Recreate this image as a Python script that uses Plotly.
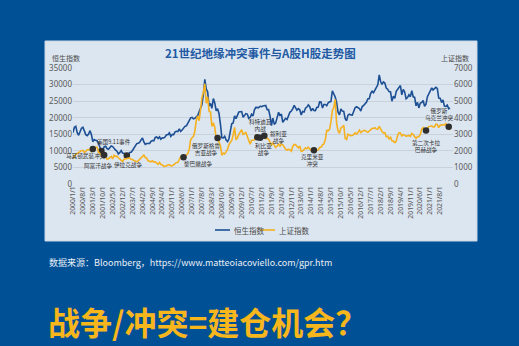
import pandas as pd
import plotly.graph_objects as go

# Monthly closes, Jan 2000 - Mar 2022
hsi = [
    15500, 17100, 17400, 15500, 14700, 16100, 16800, 17100, 15650, 14900, 14600, 15100,  # 2000
    16100, 14800, 12760, 13390, 13170, 13040, 12300, 10900, 9950, 10070, 11280, 11400,    # 2001
    10700, 10480, 11030, 11500, 11300, 10600, 10270, 9900, 9070, 9440, 10070, 9320,       # 2002
    9250, 9120, 8630, 8720, 9490, 9580, 10130, 10900, 11230, 12190, 12320, 12580,         # 2003
    13290, 13910, 12680, 11940, 12200, 12290, 12240, 12850, 13120, 13050, 14060, 14230,   # 2004
    13720, 14200, 13520, 13910, 13870, 14200, 14880, 14900, 15430, 14390, 14940, 14880,   # 2005
    15750, 15920, 15800, 16660, 15860, 16270, 16970, 17390, 17540, 18320, 18960, 19960,   # 2006
    20110, 19650, 19800, 20320, 20630, 21770, 23180, 23980, 27140, 31600, 28640, 27810,   # 2007
    23460, 24330, 22850, 25760, 24530, 22100, 22730, 21260, 18020, 13970, 13890, 14390,   # 2008
    13280, 12810, 13580, 15520, 18170, 18380, 20570, 19720, 20960, 21750, 21820, 21870,   # 2009
    20120, 20610, 21240, 21110, 19770, 20130, 21030, 20540, 22360, 23100, 23010, 23040,   # 2010
    23450, 23340, 23530, 23720, 23680, 22400, 22440, 20530, 17590, 19860, 17990, 18430,   # 2011
    20390, 21680, 20560, 21090, 18630, 19440, 19800, 19480, 20840, 21640, 22030, 22660,   # 2012
    23730, 23020, 22300, 22740, 22390, 20800, 21880, 21730, 22860, 23210, 23880, 23310,   # 2013
    22040, 22840, 22150, 22130, 23080, 23190, 24760, 24740, 22930, 24000, 23990, 23610,   # 2014
    24510, 24820, 24900, 28130, 27420, 26250, 24640, 21670, 20850, 22640, 22000, 21910,   # 2015
    19680, 19110, 20780, 21070, 20820, 20790, 21890, 23020, 23300, 22930, 22790, 22000,   # 2016
    23360, 23740, 24110, 24620, 25660, 25760, 27320, 27970, 27550, 28250, 29180, 29920,   # 2017
    32890, 30840, 30090, 30810, 30470, 28960, 28580, 27890, 27790, 24980, 26510, 25850,   # 2018
    27940, 28630, 29050, 29700, 26900, 28540, 27780, 25720, 26090, 26910, 26350, 28190,   # 2019
    26310, 26130, 23600, 24640, 22960, 24430, 24600, 25180, 23460, 24100, 26340, 27230,   # 2020
    28280, 28980, 28380, 28720, 29150, 28830, 25960, 25880, 24580, 25380, 23480, 23400,   # 2021
    23800, 22710, 22990,                                                                  # 2022
]

sse = [
    1535, 1714, 1800, 1836, 1894, 1928, 2023, 2022, 1911, 1961, 2070, 2073,   # 2000
    2066, 1960, 2112, 2119, 2214, 2218, 1920, 1834, 1767, 1690, 1747, 1646,   # 2001
    1491, 1525, 1594, 1663, 1515, 1733, 1670, 1681, 1582, 1507, 1438, 1357,   # 2002
    1499, 1511, 1510, 1521, 1576, 1487, 1477, 1421, 1367, 1348, 1397, 1497,   # 2003
    1590, 1675, 1742, 1595, 1555, 1400, 1386, 1342, 1396, 1320, 1340, 1266,   # 2004
    1191, 1306, 1181, 1159, 1060, 1080, 1083, 1162, 1155, 1092, 1099, 1161,   # 2005
    1258, 1299, 1298, 1440, 1641, 1672, 1612, 1658, 1752, 1837, 2099, 2675,   # 2006
    2786, 2881, 3183, 3841, 4109, 3820, 4471, 5218, 5552, 6050, 4871, 5262,   # 2007
    4383, 4348, 3473, 3693, 3433, 2736, 2775, 2500, 2293, 1729, 1871, 1821,   # 2008
    1991, 2082, 2373, 2477, 2632, 2959, 3412, 2667, 2779, 2996, 3195, 3277,   # 2009
    2989, 3051, 3110, 2871, 2592, 2398, 2638, 2639, 2656, 2979, 2820, 2808,   # 2010
    2791, 2905, 2928, 2911, 2743, 2762, 2701, 2568, 2359, 2468, 2333, 2199,   # 2011
    2292, 2428, 2263, 2396, 2373, 2225, 2103, 2047, 2086, 2069, 1980, 2269,   # 2012
    2385, 2366, 2237, 2178, 2301, 1979, 1994, 2098, 2175, 2141, 2220, 2116,   # 2013
    2033, 2056, 2033, 2026, 2039, 2048, 2202, 2218, 2364, 2420, 2683, 3235,   # 2014
    3210, 3310, 3748, 4442, 4612, 5100, 3664, 3206, 3053, 3383, 3445, 3539,   # 2015
    2738, 2688, 3004, 2938, 2917, 2930, 2979, 3085, 3005, 3100, 3250, 3104,   # 2016
    3159, 3242, 3223, 3155, 3117, 3192, 3273, 3361, 3349, 3393, 3317, 3307,   # 2017
    3481, 3259, 3169, 3082, 3095, 2847, 2876, 2725, 2821, 2603, 2588, 2494,   # 2018
    2585, 2941, 3091, 3078, 2899, 2979, 2933, 2886, 2905, 2929, 2872, 3050,   # 2019
    2977, 2880, 2750, 2860, 2852, 2985, 3310, 3396, 3218, 3225, 3392, 3473,   # 2020
    3483, 3509, 3442, 3447, 3615, 3591, 3397, 3544, 3568, 3547, 3564, 3640,   # 2021
    3361, 3462, 3252,                                                         # 2022
]

months = pd.date_range("2000-01-01", periods=len(hsi), freq="MS")

tick_labels = [
    "2000/1/1", "2000/8/1", "2001/3/1", "2001/10/1", "2002/5/1", "2002/12/1",
    "2003/7/1", "2004/2/1", "2004/9/1", "2005/4/1", "2005/11/1", "2006/6/1",
    "2007/1/1", "2007/8/1", "2008/3/1", "2008/10/1", "2009/5/1", "2009/12/1",
    "2010/7/1", "2011/2/1", "2011/9/1", "2012/4/1", "2012/11/1", "2013/6/1",
    "2014/1/1", "2014/8/1", "2015/3/1", "2015/10/1", "2016/5/1", "2016/12/1",
    "2017/7/1", "2018/2/1", "2018/9/1", "2019/4/1", "2019/11/1", "2020/6/1",
    "2021/1/1", "2021/8/1",
]
tick_vals = pd.to_datetime(tick_labels, format="%Y/%m/%d")

# Conflict events: name, month, which index the marker sits on
event_names = [
    "马其顿武装冲突", "美国9.11事件", "阿富汗战争", "伊拉克战争", "黎巴嫩战争",
    "俄罗斯格鲁<br>吉亚战争", "科特迪瓦<br>内战", "利比亚<br>战争", "叙利亚<br>战争",
    "克里米亚<br>冲突", "第二次卡拉<br>巴赫战争", "俄罗斯<br>乌克兰冲突",
]
event_months = [
    "2001-03", "2001-09", "2001-11", "2003-03", "2006-07", "2008-07",
    "2010-11", "2011-01", "2011-04", "2014-03", "2020-10", "2022-02",
]
event_series = [
    "sse", "hsi", "sse", "hsi", "sse", "sse",
    "sse", "sse", "sse", "sse", "sse", "sse",
]
# label offsets from each marker, in pixels (right, down)
label_offsets = [
    (-7, 7), (13, -9), (-6, 10.5), (1, 10), (14, 7), (-12, 11),
    (3, -12), (3, 12), (14, 2), (-1, 10), (0, 16), (-10, -12),
]

series_lookup = {"hsi": pd.Series(hsi, index=months), "sse": pd.Series(sse, index=months)}
event_x = pd.to_datetime(event_months)
event_y = [series_lookup[s][d] for s, d in zip(event_series, event_x)]

PAGE = "#005096"
PANEL = "#dce6f0"
BLUE = "#1d4f94"
GOLD = "#f5b120"
TXT = "#4a4a4a"
CJK = "Noto Sans CJK SC"

W, H = 519, 346
L, R, T, B = 73, 66, 68, 162
PW, PH = W - L - R, H - T - B


def px(x):
    return (x - L) / PW


def py(y):
    return (H - B - y) / PH


fig = go.Figure()

fig.add_trace(go.Scatter(
    x=months, y=hsi, name="恒生指数", mode="lines",
    line=dict(color=BLUE, width=1.6), yaxis="y",
))
fig.add_trace(go.Scatter(
    x=months, y=sse, name="上证指数", mode="lines",
    line=dict(color=GOLD, width=1.6), yaxis="y2",
))

# event markers, split by the axis they belong to
for key, axis in (("hsi", "y"), ("sse", "y2")):
    xs = [d for d, s in zip(event_x, event_series) if s == key]
    ys = [v for v, s in zip(event_y, event_series) if s == key]
    fig.add_trace(go.Scatter(
        x=xs, y=ys, mode="markers", yaxis=axis, showlegend=False,
        marker=dict(color="#2e2e2e", size=6.5),
    ))

annotations = []
for name, d, v, s, (dx, dy) in zip(event_names, event_x, event_y, event_series, label_offsets):
    annotations.append(dict(
        x=d, y=v, xref="x", yref="y" if s == "hsi" else "y2",
        text=name, showarrow=False, xshift=dx, yshift=-dy,
        font=dict(family=CJK, size=5.6, color="#333333"),
    ))


def page_text(x, y, text, size, color, anchor="center"):
    return dict(x=px(x), y=py(y), xref="paper", yref="paper", text=text,
                xanchor=anchor, yanchor="middle", showarrow=False,
                font=dict(family=CJK, size=size, color=color))


annotations += [
    page_text(260, 53, "<b>21世纪地缘冲突事件与A股H股走势图</b>", 11.5, "#2159a3"),
    page_text(50, 57.5, "恒生指数", 7, TXT, "left"),
    page_text(471, 57.5, "上证指数", 7, TXT, "right"),
    page_text(232, 230, "恒生指数", 7.5, TXT, "left"),
    page_text(277, 230, "上证指数", 7.5, TXT, "left"),
    page_text(47, 262, "数据来源：Bloomberg，https://www.matteoiacoviello.com/gpr.htm", 9, "#e9eef5", "left"),
    page_text(46, 321, "<b>战争/冲突=建仓机会？</b>", 32, "#f6b61c", "left"),
]

shapes = [
    dict(type="rect", xref="paper", yref="paper", x0=px(45), x1=px(477), y0=py(241), y1=py(41),
         fillcolor=PANEL, line=dict(color="#c9d6e4", width=1), layer="below"),
    dict(type="line", xref="paper", yref="paper", x0=px(215), x1=px(230), y0=py(230), y1=py(230),
         line=dict(color=BLUE, width=1.6)),
    dict(type="line", xref="paper", yref="paper", x0=px(260), x1=px(275), y0=py(230), y1=py(230),
         line=dict(color=GOLD, width=1.6)),
]

fig.update_layout(
    width=W, height=H,
    margin=dict(l=L, r=R, t=T, b=B, pad=0),
    paper_bgcolor=PAGE, plot_bgcolor="rgba(0,0,0,0)",
    showlegend=False,
    annotations=annotations, shapes=shapes,
    xaxis=dict(
        type="date", range=["2000-01-01", "2022-05-04"],
        tickmode="array", tickvals=tick_vals, ticktext=tick_labels,
        tickangle=-90, tickfont=dict(family="Noto Sans", size=6.8, color="#555555"),
        showgrid=False, zeroline=False, showline=False, ticks="",
    ),
    yaxis=dict(
        range=[0, 35000], tickvals=list(range(0, 35001, 5000)), tickformat="d",
        tickfont=dict(family="Noto Sans", size=8, color="#5a5a5a"),
        showgrid=True, gridcolor="#c9d1db", gridwidth=0.8, zeroline=False, ticks="",
    ),
    yaxis2=dict(
        range=[0, 7000], tickvals=list(range(0, 7001, 1000)), tickformat="d",
        overlaying="y", side="right",
        tickfont=dict(family="Noto Sans", size=8, color="#5a5a5a"),
        showgrid=False, zeroline=False, ticks="",
    ),
)

fig.write_html("out.html")
